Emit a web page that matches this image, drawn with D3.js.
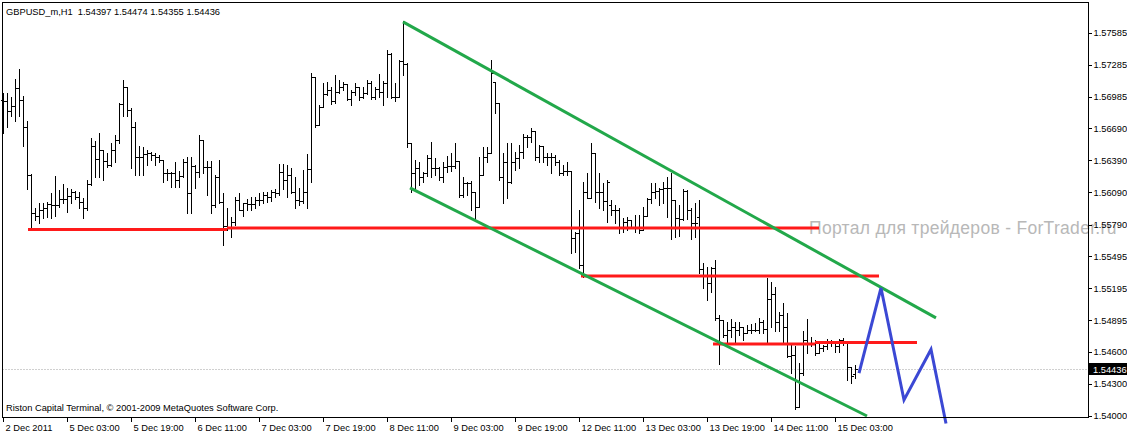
<!DOCTYPE html>
<html><head><meta charset="utf-8">
<script src="https://cdn.jsdelivr.net/npm/d3@7"></script>
<style>
body{margin:0;background:#fff;}
svg{display:block;}
text{font-family:"Liberation Sans",Arial,sans-serif;}
</style>
</head><body>
<svg id="chart" width="1127" height="436"></svg>
<script>
const symbolTitle = "GBPUSD_m,H1";
const lastBar = [1.54397, 1.54474, 1.54355, 1.54436];
const footerText = "Riston Capital Terminal, \u00a9 2001-2009 MetaQuotes Software Corp.";
const watermark = "Портал для трейдеров - ForTrader.ru";

const opens = [
1.5695,1.5694,1.5685,1.5690,1.5707,1.5695,1.5670,1.5625,1.5590,1.5587,
1.5593,1.5594,1.5598,1.5597,1.5597,1.5603,1.5603,1.5606,1.5609,1.5605,
1.5600,1.5594,1.5617,1.5652,1.5640,1.5649,1.5638,1.5635,1.5649,1.5658,
1.5692,1.5708,1.5686,1.5670,1.5642,1.5642,1.5645,1.5646,1.5644,1.5642,
1.5639,1.5627,1.5627,1.5627,1.5621,1.5624,1.5637,1.5608,1.5634,1.5628,
1.5658,1.5633,1.5633,1.5597,1.5623,1.5600,1.5578,1.5577,1.5581,1.5602,
1.5593,1.5599,1.5598,1.5598,1.5602,1.5602,1.5607,1.5605,1.5609,1.5608,
1.5628,1.5621,1.5625,1.5609,1.5602,1.5601,1.5609,1.5631,1.5717,1.5672,
1.5689,1.5701,1.5705,1.5694,1.5703,1.5708,1.5710,1.5696,1.5703,1.5708,
1.5698,1.5702,1.5711,1.5698,1.5706,1.5703,1.5711,1.5738,1.5698,1.5698,
1.5732,1.5729,1.5655,1.5627,1.5632,1.5623,1.5627,1.5641,1.5632,1.5632,
1.5623,1.5633,1.5634,1.5634,1.5638,1.5607,1.5618,1.5618,1.5609,1.5595,
1.5625,1.5642,1.5646,1.5712,1.5693,1.5623,1.5637,1.5619,1.5637,1.5641,
1.5647,1.5661,1.5661,1.5666,1.5642,1.5652,1.5642,1.5642,1.5642,1.5637,
1.5627,1.5629,1.5629,1.5566,1.5571,1.5541,1.5609,1.5604,1.5646,1.5609,
1.5609,1.5601,1.5597,1.5593,1.5593,1.5577,1.5581,1.5583,1.5577,1.5577,
1.5574,1.5587,1.5603,1.5609,1.5610,1.5612,1.5613,1.5613,1.5602,1.5585,
1.5584,1.5610,1.5593,1.5580,1.5586,1.5537,1.5532,1.5524,1.5538,1.5492,
1.5490,1.5476,1.5480,1.5483,1.5480,1.5483,1.5478,1.5480,1.5480,1.5480,
1.5488,1.5481,1.5509,1.5514,1.5488,1.5494,1.5483,1.5456,1.5457,1.5408,
1.5440,1.5471,1.5467,1.5467,1.5459,1.5464,1.5465,1.5469,1.5468,1.5465,
1.5471,1.5468,1.5446,1.54397];

const highs = [
1.5702,1.5702,1.5698,1.5715,1.5724,1.5699,1.5676,1.5626,1.5594,1.5599,
1.5599,1.5600,1.5608,1.5624,1.5611,1.5617,1.5613,1.5612,1.5610,1.5609,
1.5604,1.5621,1.5660,1.5657,1.5665,1.5649,1.5646,1.5655,1.5663,1.5693,
1.5714,1.5708,1.5688,1.5675,1.5652,1.5651,1.5649,1.5647,1.5646,1.5644,
1.5639,1.5631,1.5628,1.5637,1.5629,1.5640,1.5642,1.5642,1.5635,1.5663,
1.5658,1.5638,1.5638,1.5625,1.5639,1.5608,1.5594,1.5586,1.5605,1.5608,
1.5599,1.5603,1.5605,1.5605,1.5608,1.5609,1.5609,1.5611,1.5612,1.5636,
1.5636,1.5635,1.5632,1.5623,1.5613,1.5630,1.5645,1.5721,1.5717,1.5691,
1.5711,1.5712,1.5708,1.5719,1.5714,1.5712,1.5710,1.5705,1.5711,1.5708,
1.5708,1.5714,1.5713,1.5708,1.5720,1.5713,1.5742,1.5739,1.5711,1.5733,
1.5769,1.5730,1.5655,1.5639,1.5637,1.5628,1.5644,1.5656,1.5641,1.5633,
1.5637,1.5643,1.5646,1.5655,1.5638,1.5623,1.5619,1.5620,1.5609,1.5642,
1.5651,1.5651,1.5733,1.5712,1.5693,1.5646,1.5655,1.5655,1.5647,1.5653,
1.5664,1.5663,1.5669,1.5666,1.5653,1.5652,1.5646,1.5646,1.5644,1.5639,
1.5635,1.5637,1.5629,1.5572,1.5593,1.5619,1.5627,1.5655,1.5646,1.5627,
1.5618,1.5621,1.5602,1.5597,1.5594,1.5585,1.5586,1.5583,1.5588,1.5588,
1.5595,1.5604,1.5618,1.5618,1.5613,1.5619,1.5623,1.5627,1.5602,1.5597,
1.5612,1.5611,1.5594,1.5599,1.5602,1.5543,1.5539,1.5539,1.5546,1.5494,
1.5490,1.5488,1.5491,1.5488,1.5488,1.5483,1.5485,1.5486,1.5487,1.5492,
1.5490,1.5529,1.5525,1.5521,1.5497,1.5506,1.5496,1.5466,1.5465,1.5450,
1.5479,1.5491,1.5474,1.5471,1.5469,1.5466,1.5472,1.5471,1.5468,1.5472,
1.5473,1.5468,1.5446,1.54474];

const lows = [
1.5665,1.5670,1.5680,1.5676,1.5680,1.5652,1.5612,1.5576,1.5583,1.5580,
1.5585,1.5586,1.5585,1.5587,1.5595,1.5599,1.5591,1.5599,1.5603,1.5594,
1.5585,1.5593,1.5616,1.5623,1.5623,1.5621,1.5633,1.5634,1.5637,1.5655,
1.5680,1.5680,1.5632,1.5625,1.5625,1.5625,1.5635,1.5639,1.5635,1.5637,
1.5619,1.5621,1.5614,1.5614,1.5614,1.5623,1.5590,1.5590,1.5613,1.5623,
1.5627,1.5607,1.5590,1.5595,1.5599,1.5560,1.5574,1.5567,1.5579,1.5593,
1.5587,1.5593,1.5593,1.5594,1.5597,1.5599,1.5600,1.5601,1.5605,1.5607,
1.5612,1.5605,1.5608,1.5594,1.5597,1.5599,1.5594,1.5619,1.5670,1.5672,
1.5689,1.5700,1.5692,1.5693,1.5702,1.5705,1.5695,1.5691,1.5700,1.5695,
1.5697,1.5701,1.5696,1.5696,1.5698,1.5691,1.5698,1.5697,1.5694,1.5698,
1.5719,1.5651,1.5609,1.5613,1.5616,1.5619,1.5624,1.5623,1.5625,1.5621,
1.5619,1.5628,1.5629,1.5632,1.5605,1.5605,1.5607,1.5593,1.5584,1.5595,
1.5625,1.5637,1.5646,1.5683,1.5621,1.5599,1.5604,1.5618,1.5630,1.5632,
1.5641,1.5651,1.5656,1.5639,1.5637,1.5637,1.5635,1.5627,1.5635,1.5625,
1.5625,1.5625,1.5552,1.5553,1.5538,1.5530,1.5604,1.5604,1.5600,1.5594,
1.5593,1.5581,1.5588,1.5580,1.5571,1.5572,1.5574,1.5576,1.5572,1.5571,
1.5574,1.5587,1.5599,1.5604,1.5597,1.5599,1.5586,1.5565,1.5567,1.5568,
1.5583,1.5584,1.5565,1.5567,1.5534,1.5520,1.5508,1.5516,1.5490,1.5449,
1.5474,1.5469,1.5474,1.5469,1.5476,1.5471,1.5478,1.5478,1.5479,1.5478,
1.5478,1.5469,1.5483,1.5479,1.5479,1.5469,1.5455,1.5440,1.5407,1.5408,
1.5438,1.5459,1.5465,1.5457,1.5459,1.5461,1.5463,1.5465,1.5460,1.5460,
1.5466,1.5434,1.5431,1.54355];

const closes = [
1.5694,1.5685,1.5690,1.5707,1.5695,1.5670,1.5625,1.5590,1.5587,1.5593,
1.5594,1.5598,1.5597,1.5597,1.5603,1.5603,1.5606,1.5609,1.5605,1.5600,
1.5594,1.5617,1.5652,1.5640,1.5649,1.5638,1.5635,1.5649,1.5658,1.5692,
1.5708,1.5686,1.5670,1.5642,1.5642,1.5645,1.5646,1.5644,1.5642,1.5639,
1.5627,1.5627,1.5627,1.5621,1.5624,1.5637,1.5608,1.5634,1.5628,1.5658,
1.5633,1.5633,1.5597,1.5623,1.5600,1.5578,1.5577,1.5581,1.5602,1.5593,
1.5599,1.5598,1.5598,1.5602,1.5602,1.5607,1.5605,1.5609,1.5608,1.5628,
1.5621,1.5625,1.5609,1.5602,1.5601,1.5609,1.5631,1.5717,1.5672,1.5689,
1.5701,1.5705,1.5694,1.5703,1.5708,1.5710,1.5696,1.5703,1.5708,1.5698,
1.5702,1.5711,1.5698,1.5706,1.5703,1.5711,1.5738,1.5698,1.5698,1.5732,
1.5729,1.5655,1.5627,1.5632,1.5623,1.5627,1.5641,1.5632,1.5632,1.5623,
1.5633,1.5634,1.5634,1.5638,1.5607,1.5618,1.5618,1.5609,1.5595,1.5625,
1.5642,1.5646,1.5721,1.5693,1.5623,1.5637,1.5619,1.5637,1.5641,1.5647,
1.5661,1.5661,1.5666,1.5642,1.5652,1.5642,1.5642,1.5642,1.5637,1.5627,
1.5629,1.5629,1.5566,1.5571,1.5541,1.5609,1.5604,1.5646,1.5609,1.5609,
1.5601,1.5619,1.5593,1.5593,1.5577,1.5581,1.5583,1.5577,1.5577,1.5574,
1.5587,1.5603,1.5609,1.5610,1.5612,1.5613,1.5613,1.5602,1.5585,1.5584,
1.5610,1.5593,1.5580,1.5580,1.5537,1.5532,1.5524,1.5538,1.5492,1.5490,
1.5476,1.5480,1.5483,1.5480,1.5483,1.5478,1.5480,1.5480,1.5480,1.5488,
1.5481,1.5509,1.5514,1.5488,1.5494,1.5483,1.5456,1.5457,1.5408,1.5440,
1.5471,1.5467,1.5467,1.5459,1.5464,1.5465,1.5469,1.5468,1.5465,1.5471,
1.5468,1.5446,1.5437,1.54436];

const timeLabels = ["2 Dec 2011","5 Dec 03:00","5 Dec 19:00","6 Dec 11:00","7 Dec 03:00",
  "7 Dec 19:00","8 Dec 11:00","9 Dec 03:00","9 Dec 19:00","12 Dec 11:00",
  "13 Dec 03:00","13 Dec 19:00","14 Dec 11:00","15 Dec 03:00"];
const barsPerLabel = 16;
const priceTicks = [1.57585,1.57285,1.56985,1.56690,1.56390,1.56090,1.55790,
  1.55495,1.55195,1.54895,1.54600,1.54300,1.54000];

// drawn objects: [bar index, price] pairs
const channelUpper = [[100, 1.57684], [233.25, 1.54917]];
const channelLower = [[101.75, 1.56132], [216, 1.54000]];
const levelLines = [
  [[6.25, 1.55744], [56, 1.55744]],
  [[56, 1.55758], [204, 1.55758]],
  [[144.5, 1.55309], [219, 1.55309]],
  [[177.5, 1.54674], [203, 1.54674]],
  [[203, 1.54686], [228.5, 1.54686]]
];
const forecast = [[214, 1.54400], [219.5, 1.55197], [225.25, 1.54150], [232, 1.54622], [235.75, 1.53930]];

const svg = d3.select("#chart");
const W = 1127, H = 436;
const plotL = 2.5, plotR = 1088.5, plotT = 2.5, plotB = 417.5;

const x = d3.scaleLinear().domain([0, 1]).range([3, 7]);
const y = d3.scaleLinear().domain([1.54000, 1.57585]).range([416, 32.5]);

svg.append("rect").attr("width", W).attr("height", H).attr("fill", "#fff");

// current price dotted line
const lastClose = lastBar[3];
svg.append("line")
  .attr("x1", plotL).attr("x2", plotR)
  .attr("y1", Math.round(y(lastClose)) + 0.5).attr("y2", Math.round(y(lastClose)) + 0.5)
  .attr("stroke", "#a0a0a0").attr("stroke-width", 1).attr("stroke-dasharray", "1,2");

// OHLC bars
const n = opens.length;
const gb = svg.append("g").attr("fill", "#000").attr("shape-rendering", "crispEdges");
const idx = d3.range(n);
gb.selectAll("rect.hl").data(idx).join("rect").attr("class", "hl")
  .attr("x", i => Math.round(x(i)))
  .attr("y", i => Math.round(y(highs[i])))
  .attr("width", 1)
  .attr("height", i => Math.max(1, Math.round(y(lows[i])) - Math.round(y(highs[i])) + 1));
gb.selectAll("rect.op").data(idx).join("rect").attr("class", "op")
  .attr("x", i => Math.round(x(i)) - 2)
  .attr("y", i => Math.round(y(opens[i])))
  .attr("width", 2).attr("height", 1);
gb.selectAll("rect.cl").data(idx).join("rect").attr("class", "cl")
  .attr("x", i => Math.round(x(i)) + 1)
  .attr("y", i => Math.round(y(closes[i])))
  .attr("width", 2).attr("height", 1);

const line = d3.line().x(d => x(d[0])).y(d => y(d[1]));

// watermark
svg.append("text").attr("x", 809).attr("y", 234)
  .attr("font-size", 17.5).attr("fill", "#b8b8b8").attr("letter-spacing", 0.3)
  .text(watermark);

// level lines
levelLines.forEach(seg => {
  svg.append("path").attr("d", line(seg)).attr("stroke", "#ff1a1a").attr("stroke-width", 3).attr("fill", "none");
});
// channel
[channelUpper, channelLower].forEach(seg => {
  svg.append("path").attr("d", line(seg)).attr("stroke", "#22a84a").attr("stroke-width", 3).attr("fill", "none");
});
// forecast zigzag
svg.append("path").attr("d", line(forecast)).attr("stroke", "#3b48d4").attr("stroke-width", 3)
  .attr("fill", "none").attr("stroke-linejoin", "miter");

// frame
svg.append("rect").attr("x", plotL).attr("y", plotT).attr("width", plotR - plotL).attr("height", plotB - plotT)
  .attr("fill", "none").attr("stroke", "#000").attr("stroke-width", 1).attr("shape-rendering", "crispEdges");

// price axis
const yAxis = d3.axisRight(y).tickValues(priceTicks).tickSize(3).tickPadding(2)
  .tickFormat(d3.format(".5f"));
const ga = svg.append("g").attr("transform", `translate(${plotR},0)`).call(yAxis);
ga.select(".domain").remove();
ga.selectAll("text").attr("font-size", 9.3).attr("font-family", "Liberation Sans, Arial, sans-serif").attr("fill", "#000");
ga.selectAll("line").attr("stroke", "#000").attr("shape-rendering", "crispEdges");

// last price label
const ly = y(lastClose);
svg.append("rect").attr("x", 1089).attr("y", Math.round(ly) - 6).attr("width", 38).attr("height", 12).attr("fill", "#000");
svg.append("text").attr("x", 1093).attr("y", ly).attr("dy", "0.35em").attr("font-size", 9.3)
  .attr("fill", "#fff").text(d3.format(".5f")(lastClose));

// time axis
const tickIdx = timeLabels.map((d, i) => i * barsPerLabel);
const xAxis = d3.axisBottom(x).tickValues(tickIdx).tickSize(4).tickPadding(3)
  .tickFormat((d, i) => timeLabels[i]);
const gx = svg.append("g").attr("transform", `translate(0,${plotB})`).call(xAxis);
gx.select(".domain").remove();
gx.selectAll("line").attr("stroke", "#000").attr("shape-rendering", "crispEdges");
gx.selectAll("text").attr("text-anchor", "start").attr("dx", 2).attr("font-size", 9.3)
  .attr("font-family", "Liberation Sans, Arial, sans-serif").attr("fill", "#000");

// title & footer
svg.append("text").attr("x", 6).attr("y", 15).attr("font-size", 9.3).style("white-space", "pre")
  .text(`${symbolTitle}  ${lastBar.map(d3.format(".5f")).join(" ")}`);
svg.append("text").attr("x", 6).attr("y", 411).attr("font-size", 9.3).text(footerText);
</script>
</body></html>
